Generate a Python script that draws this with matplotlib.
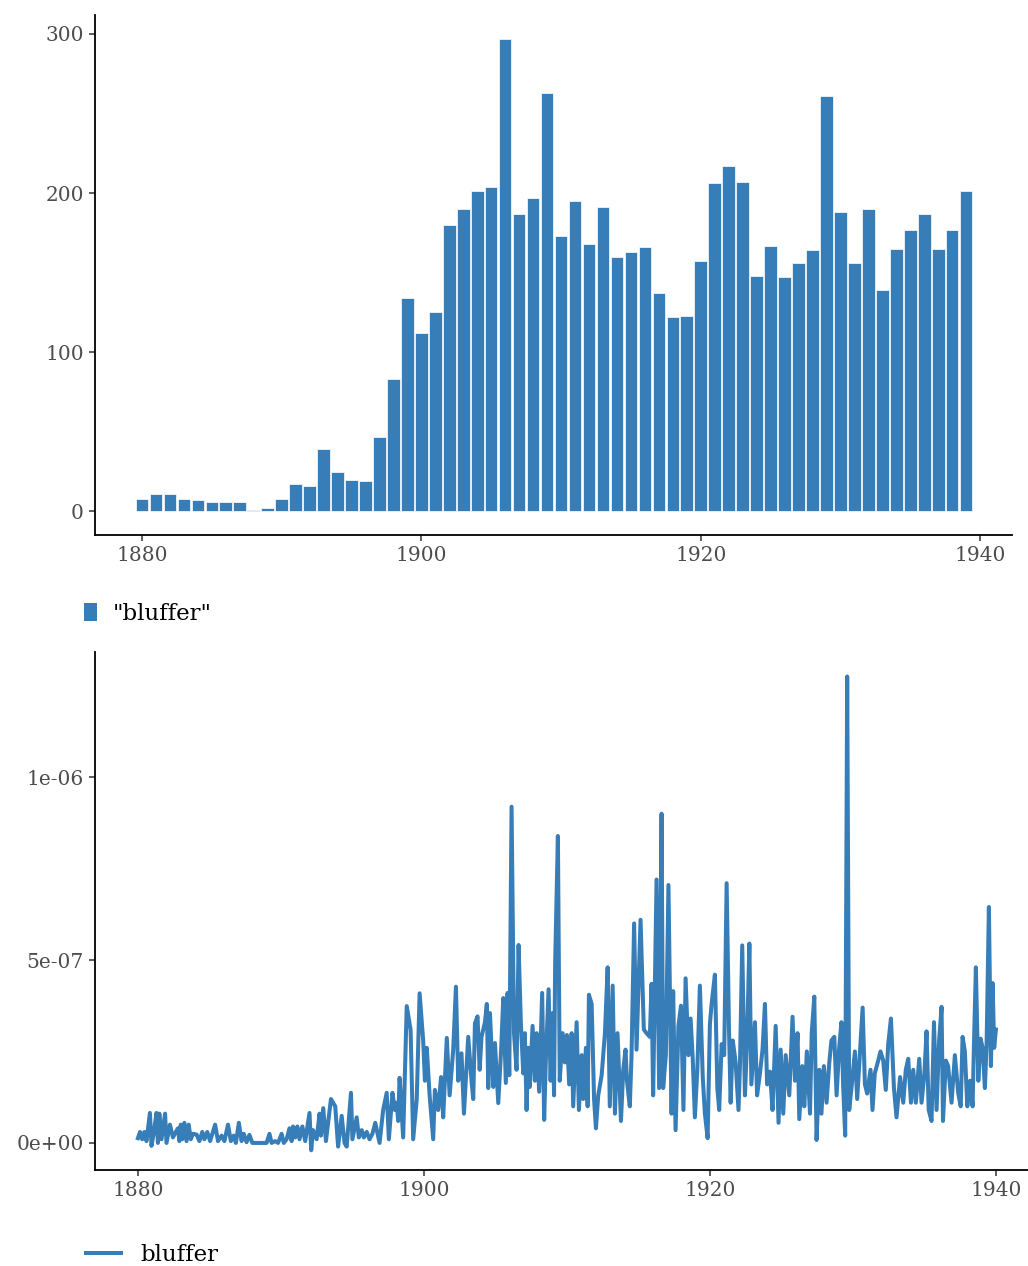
"""Yearly counts and monthly relative frequency of the word "bluffer"."""

import matplotlib
matplotlib.use('Agg')
import matplotlib.pyplot as plt
from matplotlib.patches import Patch
from matplotlib.lines import Line2D
import numpy as np

# yearly counts (bar panel)
years = list(range(1880, 1940))
counts = [8, 11, 11, 8, 7, 6, 6, 6, 1, 2,
          8, 17, 16, 39, 25, 20, 19, 47, 83, 134,
          112, 125, 180, 190, 201, 204, 297, 187, 197, 263,
          173, 195, 168, 191, 160, 163, 166, 137, 122, 123,
          157, 206, 217, 207, 148, 167, 147, 156, 164, 261,
          188, 156, 190, 139, 165, 177, 187, 165, 177, 201]

# monthly relative frequency (decimal year, value in 1e-7)
freq_time = [
    1880.00, 1880.15, 1880.30, 1880.45, 1880.60, 1880.84, 1880.95, 1881.10, 1881.30, 1881.40,
    1881.50, 1881.65, 1881.90, 1882.00, 1882.24, 1882.45, 1882.65, 1882.80, 1882.90, 1883.00,
    1883.10, 1883.25, 1883.40, 1883.55, 1883.70, 1883.85, 1884.10, 1884.30, 1884.50, 1884.65,
    1884.85, 1885.05, 1885.40, 1885.60, 1885.85, 1886.05, 1886.30, 1886.50, 1886.70, 1886.85,
    1887.06, 1887.25, 1887.40, 1887.60, 1887.80, 1888.00, 1888.40, 1888.70, 1889.00, 1889.20,
    1889.35, 1889.60, 1889.80, 1890.05, 1890.20, 1890.40, 1890.60, 1890.75, 1890.85, 1891.00,
    1891.15, 1891.30, 1891.50, 1891.70, 1892.00, 1892.12, 1892.25, 1892.50, 1892.70, 1892.80,
    1892.96, 1893.15, 1893.50, 1893.80, 1894.00, 1894.25, 1894.45, 1894.60, 1894.90, 1895.00,
    1895.30, 1895.45, 1895.65, 1895.80, 1896.00, 1896.20, 1896.40, 1896.60, 1896.90, 1897.15,
    1897.40, 1897.55, 1897.80, 1897.97, 1898.10, 1898.20, 1898.30, 1898.55, 1898.80, 1899.07,
    1899.25, 1899.50, 1899.70, 1899.95, 1900.07, 1900.20, 1900.40, 1900.65, 1900.77, 1901.00,
    1901.20, 1901.35, 1901.60, 1901.80, 1902.05, 1902.24, 1902.40, 1902.63, 1902.80, 1903.10,
    1903.33, 1903.45, 1903.57, 1903.75, 1903.90, 1904.03, 1904.27, 1904.40, 1904.50, 1904.62,
    1904.85, 1904.97, 1905.20, 1905.40, 1905.55, 1905.73, 1905.85, 1905.97, 1906.13, 1906.30,
    1906.48, 1906.62, 1906.78, 1906.95, 1907.06, 1907.18, 1907.30, 1907.40, 1907.60, 1907.76,
    1907.88, 1908.06, 1908.27, 1908.41, 1908.53, 1908.72, 1908.86, 1909.00, 1909.10, 1909.18,
    1909.37, 1909.50, 1909.70, 1909.86, 1910.00, 1910.16, 1910.33, 1910.44, 1910.68, 1910.84,
    1911.03, 1911.14, 1911.33, 1911.45, 1911.54, 1911.73, 1911.90, 1912.03, 1912.19, 1912.43,
    1912.66, 1912.85, 1913.00, 1913.20, 1913.36, 1913.54, 1913.78, 1913.94, 1914.10, 1914.20,
    1914.40, 1914.52, 1914.70, 1914.87, 1915.15, 1915.38, 1915.57, 1915.80, 1915.92, 1916.03,
    1916.27, 1916.45, 1916.62, 1916.73, 1916.92, 1917.10, 1917.32, 1917.43, 1917.60, 1917.80,
    1917.98, 1918.15, 1918.30, 1918.50, 1918.65, 1918.80, 1918.95, 1919.12, 1919.30, 1919.50,
    1919.65, 1919.84, 1920.00, 1920.12, 1920.35, 1920.52, 1920.65, 1920.82, 1921.00, 1921.17,
    1921.33, 1921.45, 1921.60, 1921.80, 1922.00, 1922.10, 1922.26, 1922.45, 1922.60, 1922.76,
    1922.90, 1923.15, 1923.30, 1923.50, 1923.68, 1923.85, 1924.00, 1924.20, 1924.38, 1924.60,
    1924.80, 1924.95, 1925.13, 1925.30, 1925.55, 1925.78, 1925.95, 1926.13, 1926.25, 1926.46,
    1926.60, 1926.78, 1927.00, 1927.12, 1927.30, 1927.46, 1927.65, 1927.80, 1927.97, 1928.16,
    1928.35, 1928.50, 1928.70, 1928.86, 1929.04, 1929.20, 1929.32, 1929.46, 1929.60, 1929.74,
    1929.90, 1930.14, 1930.30, 1930.50, 1930.68, 1930.84, 1931.00, 1931.23, 1931.37, 1931.53,
    1931.77, 1931.93, 1932.12, 1932.30, 1932.47, 1932.66, 1932.87, 1933.05, 1933.30, 1933.52,
    1933.70, 1933.87, 1934.06, 1934.22, 1934.40, 1934.64, 1934.80, 1935.00, 1935.15, 1935.30,
    1935.50, 1935.67, 1935.85, 1936.03, 1936.20, 1936.30, 1936.50, 1936.66, 1936.90, 1937.13,
    1937.37, 1937.54, 1937.67, 1937.83, 1938.00, 1938.20, 1938.37, 1938.46, 1938.60, 1938.77,
    1938.93, 1939.07, 1939.23, 1939.35, 1939.51, 1939.65, 1939.77, 1939.88, 1940.00,
]
freq_e7 = [
    0.13, 0.30, 0.10, 0.30, 0.05, 0.82, -0.08, 0.25, 0.82, 0.00,
    0.80, 0.10, 0.80, 0.00, 0.50, 0.15, 0.30, 0.40, 0.05, 0.50,
    0.10, 0.55, 0.05, 0.50, 0.10, 0.25, 0.23, 0.05, 0.30, 0.10,
    0.30, 0.05, 0.50, 0.05, 0.20, 0.05, 0.50, 0.05, 0.20, 0.00,
    0.55, 0.05, 0.25, 0.02, 0.22, 0.00, 0.00, 0.00, 0.00, 0.25,
    0.00, 0.05, 0.00, 0.25, 0.00, 0.10, 0.40, 0.05, 0.45, 0.15,
    0.45, 0.10, 0.45, 0.05, 0.82, -0.20, 0.35, 0.10, 0.80, 0.20,
    0.95, 0.05, 1.20, 1.00, -0.10, 0.74, 0.00, -0.10, 1.37, 0.10,
    0.70, 0.15, 0.35, 0.15, 0.30, 0.10, 0.25, 0.55, 0.00, 0.90,
    1.37, 0.10, 1.37, 0.90, 1.10, 0.60, 1.78, 0.15, 3.74, 3.09,
    0.10, 1.20, 4.09, 2.80, 1.70, 2.60, 1.30, 0.10, 1.45, 0.90,
    1.80, 0.70, 2.87, 1.30, 2.55, 4.27, 1.70, 2.45, 0.80, 2.90,
    1.70, 1.20, 3.27, 3.46, 2.00, 2.90, 3.30, 3.80, 1.50, 3.55,
    1.53, 2.73, 1.09, 2.54, 3.96, 1.64, 4.10, 1.85, 9.19, 3.00,
    2.00, 5.41, 3.28, 1.90, 3.00, 0.90, 2.60, 1.53, 3.20, 1.70,
    3.00, 1.40, 4.10, 0.63, 2.30, 4.20, 1.70, 3.55, 1.30, 4.95,
    8.39, 1.70, 3.00, 2.20, 2.95, 1.60, 3.00, 1.00, 3.30, 0.90,
    2.40, 1.20, 2.60, 1.00, 4.05, 3.80, 1.20, 0.40, 1.30, 1.85,
    3.00, 4.80, 1.00, 4.30, 0.80, 3.00, 0.60, 2.00, 2.55, 1.70,
    1.00, 2.40, 6.00, 2.55, 6.10, 3.10, 3.00, 2.90, 4.35, 1.30,
    7.20, 1.50, 9.00, 1.50, 2.40, 7.05, 0.80, 4.15, 0.35, 3.20,
    3.75, 0.90, 4.50, 2.40, 3.40, 2.30, 0.70, 2.00, 4.30, 1.80,
    0.80, 0.13, 3.25, 3.80, 4.60, 1.50, 0.90, 2.70, 2.40, 7.10,
    3.20, 1.10, 2.80, 2.20, 0.90, 2.10, 5.40, 1.30, 2.80, 5.45,
    1.60, 3.30, 1.30, 1.90, 2.55, 3.80, 1.60, 1.95, 0.90, 3.20,
    0.55, 2.55, 0.80, 2.40, 1.30, 3.45, 1.70, 3.00, 0.65, 2.10,
    1.00, 2.50, 0.80, 3.00, 4.00, 0.08, 2.00, 0.80, 2.10, 1.10,
    2.20, 2.80, 2.90, 1.30, 2.60, 3.30, 1.55, 0.20, 12.75, 0.90,
    1.50, 2.50, 1.20, 2.50, 3.70, 1.60, 1.35, 2.00, 0.90, 1.90,
    2.25, 2.50, 2.25, 1.45, 2.70, 3.40, 1.50, 0.70, 1.80, 1.10,
    2.00, 2.30, 1.10, 2.00, 1.10, 2.30, 1.10, 1.90, 3.05, 0.90,
    0.60, 3.30, 0.90, 2.80, 3.72, 0.60, 2.25, 2.10, 1.10, 2.40,
    1.35, 1.00, 2.90, 2.50, 1.00, 1.70, 1.00, 2.60, 4.80, 1.70,
    2.85, 2.60, 1.50, 2.70, 6.45, 2.10, 4.37, 2.60, 3.10,
]

COLOR = '#377eb8'
W, H = 1028, 1266

plt.rcParams.update({'font.family': 'DejaVu Serif', 'font.size': 14.5})
fig = plt.figure(figsize=(W / 100, H / 100), dpi=100)


def style_axes(ax):
    for side in ('top', 'right'):
        ax.spines[side].set_visible(False)
    for side in ('left', 'bottom'):
        ax.spines[side].set_linewidth(1.3)
        ax.spines[side].set_color('black')
    ax.tick_params(length=4, width=1.1, color='#333333', labelcolor='#4d4d4d',
                   labelsize=14.5, pad=4)


# top panel: yearly counts
ax1 = fig.add_axes([95 / W, 1 - 535 / H, (1012 - 95) / W, (535 - 15) / H])
ax1.bar(years, counts, width=0.9, color=COLOR, edgecolor='white', linewidth=0.5)
ax1.set_xlim(1876.64, 1942.28)
ax1.set_ylim(-14.85, 311.85)
ax1.set_xticks([1880, 1900, 1920, 1940])
ax1.set_yticks([0, 100, 200, 300])
style_axes(ax1)

fig.legend(handles=[Patch(facecolor=COLOR, edgecolor='none')], labels=['"bluffer"'],
           loc='center left', bbox_to_anchor=(84 / W, 1 - 614 / H), frameon=False,
           fontsize=16.5, handlelength=0.57, handleheight=0.8, handletextpad=0.7,
           borderpad=0, borderaxespad=0)

# bottom panel: monthly relative frequency
ax2 = fig.add_axes([95 / W, 1 - 1170 / H, 943.8 / W, (1170 - 652) / H])
ax2.plot(freq_time, np.array(freq_e7) * 1e-7, color=COLOR, linewidth=2.9,
         solid_joinstyle='round')
ax2.set_xlim(1877.0, 1943.0)
ax2.set_ylim(-0.74e-7, 13.42e-7)
ax2.set_xticks([1880, 1900, 1920, 1940])
ax2.set_yticks([0, 5e-7, 1e-6])
ax2.set_yticklabels(['0e+00', '5e-07', '1e-06'])
style_axes(ax2)

fig.legend(handles=[Line2D([0], [0], color=COLOR, linewidth=2.9)], labels=['bluffer'],
           loc='center left', bbox_to_anchor=(86 / W, 1 - 1255 / H), frameon=False,
           fontsize=16.5, handlelength=1.53, handletextpad=0.83,
           borderpad=0, borderaxespad=0)

fig.savefig('out.png', dpi=100)
